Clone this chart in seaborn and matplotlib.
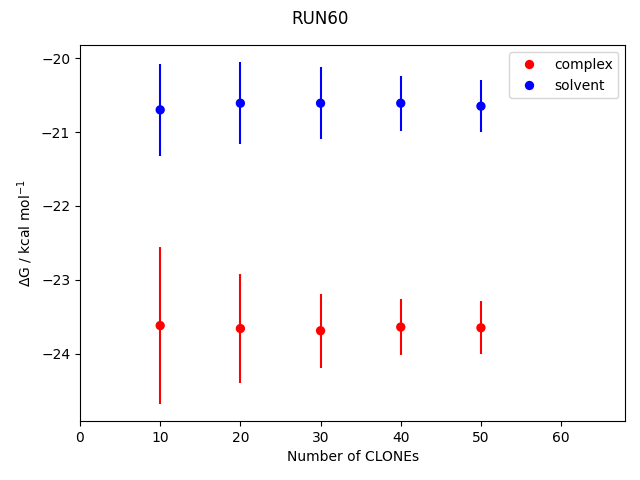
"""
Free energy estimates vs number of clones for RUN60
"""

import pandas as pd
import seaborn as sns
import matplotlib
matplotlib.use("Agg")
import matplotlib.pyplot as plt

n_clones = [10, 20, 30, 40, 50]
complex_dg = [-23.62, -23.66, -23.69, -23.64, -23.65]
complex_err = [1.06, 0.74, 0.50, 0.385, 0.36]
solvent_dg = [-20.70, -20.61, -20.61, -20.61, -20.65]
solvent_err = [0.62, 0.555, 0.49, 0.37, 0.35]

df = pd.DataFrame({
    "clones": n_clones * 2,
    "dg": complex_dg + solvent_dg,
    "err": complex_err + solvent_err,
    "phase": ["complex"] * 5 + ["solvent"] * 5,
})
colors = {"complex": "red", "solvent": "blue"}

fig, ax = plt.subplots(figsize=(6.4, 4.8), dpi=100)
fig.suptitle("RUN60")

for phase, sub in df.groupby("phase"):
    ax.errorbar(sub["clones"], sub["dg"], yerr=sub["err"], fmt="none",
                ecolor=colors[phase], elinewidth=1.5)

sns.scatterplot(data=df, x="clones", y="dg", hue="phase", palette=colors,
                s=45, linewidth=0, ax=ax, zorder=3)

ax.set_xlim(0, 68)
ax.set_xlabel("Number of CLONEs")
ax.set_ylabel(r"$\Delta$G / kcal mol$^{-1}$")
ax.legend(loc="upper right")

fig.subplots_adjust(left=0.125, right=0.977, top=0.906, bottom=0.123)
fig.savefig("out.png")
